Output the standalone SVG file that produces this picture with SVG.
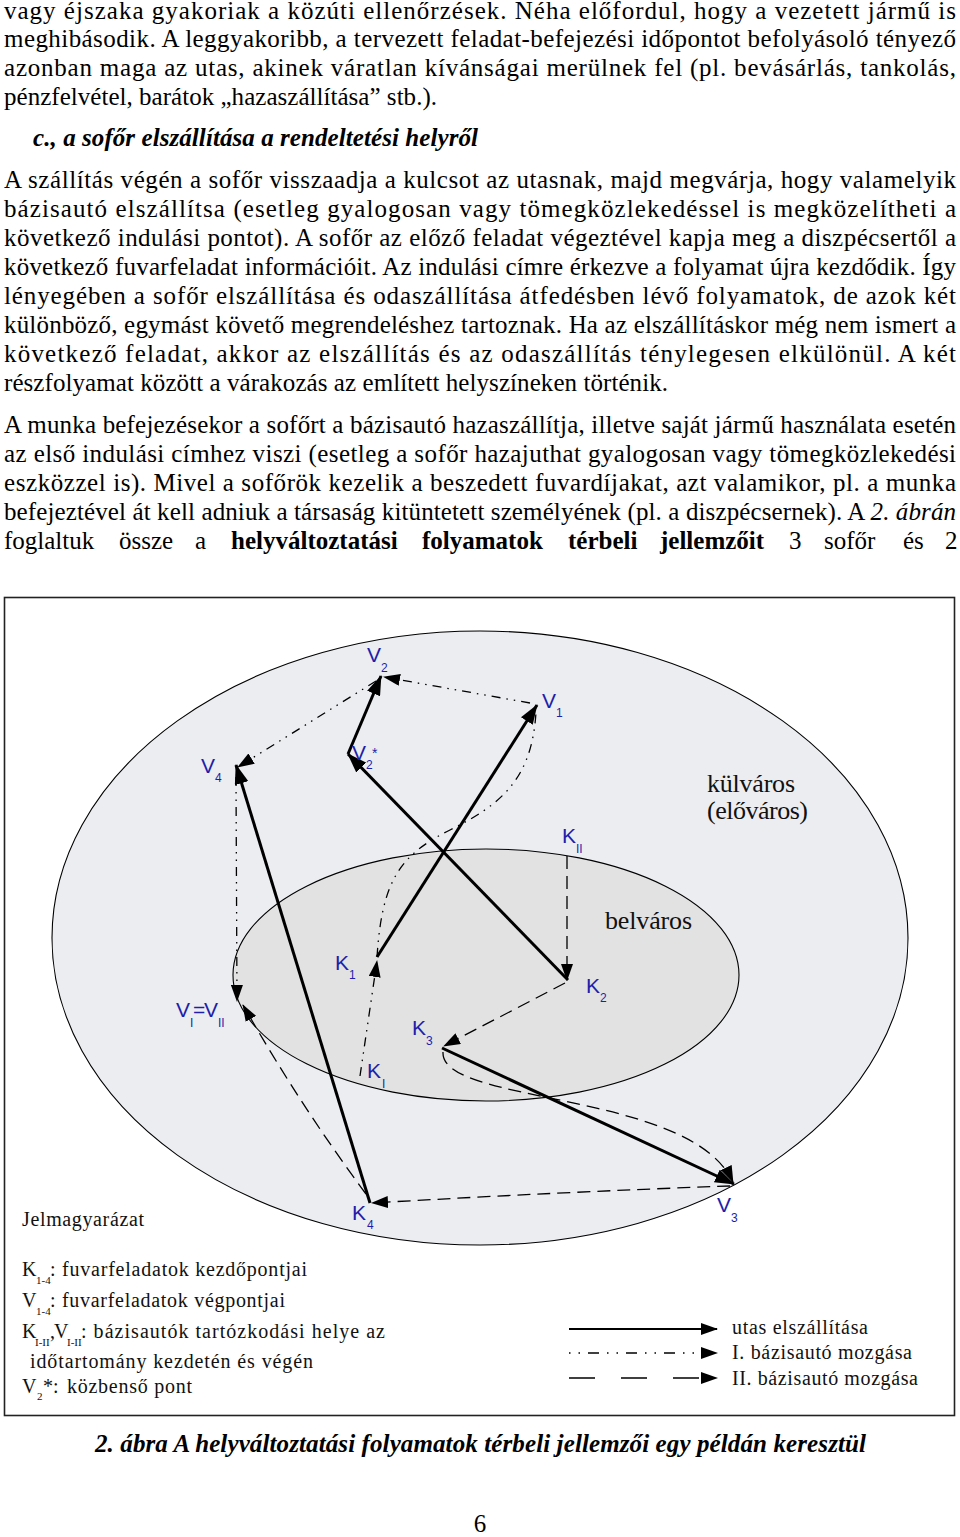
<svg xmlns="http://www.w3.org/2000/svg" width="960" height="1537" viewBox="0 0 960 1537">
<style>
.body{font-family:"Liberation Serif","Times New Roman",serif;font-size:25px;fill:#000}
.bi{font-weight:bold;font-style:italic}
.lbl{font-family:"Liberation Sans",Arial,sans-serif;font-size:21px;fill:#1e1eaa}
.sub{font-size:12px}
.zone{font-family:"Liberation Serif","Times New Roman",serif;font-size:26px;fill:#111}
.leg{font-family:"Liberation Serif","Times New Roman",serif;font-size:20px;fill:#111}
.legs{font-family:"Liberation Serif","Times New Roman",serif;font-size:11px;fill:#111}
.solid{fill:none;stroke:#000;stroke-width:3}
.dd{fill:none;stroke:#000;stroke-width:1.3;stroke-dasharray:9 6 1.5 6 1.5 6}
.da{fill:none;stroke:#000;stroke-width:1.3;stroke-dasharray:13 7}
</style>
<defs>
<marker id="ah" viewBox="0 0 20 14" refX="19" refY="7" markerWidth="20" markerHeight="14" markerUnits="userSpaceOnUse" orient="auto"><path d="M0,0 L20,7 L0,14 z" fill="#000"/></marker>
<marker id="ah2" viewBox="0 0 17 12" refX="16" refY="6" markerWidth="17" markerHeight="12" markerUnits="userSpaceOnUse" orient="auto"><path d="M0,0 L17,6 L0,12 z" fill="#000"/></marker>
</defs>
<rect width="960" height="1537" fill="#fff"/>

<g id="page-text" class="body">
<text x="4" y="19" textLength="952" lengthAdjust="spacing">vagy éjszaka gyakoriak a közúti ellenőrzések. Néha előfordul, hogy a vezetett jármű is</text>
<text x="4" y="47" textLength="952" lengthAdjust="spacing">meghibásodik. A leggyakoribb, a tervezett feladat-befejezési időpontot befolyásoló tényező</text>
<text x="4" y="76" textLength="952" lengthAdjust="spacing">azonban maga az utas, akinek váratlan kívánságai merülnek fel (pl. bevásárlás, tankolás,</text>
<text x="4" y="105" textLength="433" lengthAdjust="spacing">pénzfelvétel, barátok „hazaszállítása” stb.).</text>
<text x="33" y="146" class="bi" textLength="445" lengthAdjust="spacing">c., a sofőr elszállítása a rendeltetési helyről</text>
<text x="4" y="188" textLength="952" lengthAdjust="spacing">A szállítás végén a sofőr visszaadja a kulcsot az utasnak, majd megvárja, hogy valamelyik</text>
<text x="4" y="217" textLength="952" lengthAdjust="spacing">bázisautó elszállítsa (esetleg gyalogosan vagy tömegközlekedéssel is megközelítheti a</text>
<text x="4" y="246" textLength="952" lengthAdjust="spacing">következő indulási pontot). A sofőr az előző feladat végeztével kapja meg a diszpécsertől a</text>
<text x="4" y="275" textLength="952" lengthAdjust="spacing">következő fuvarfeladat információit. Az indulási címre érkezve a folyamat újra kezdődik. Így</text>
<text x="4" y="304" textLength="952" lengthAdjust="spacing">lényegében a sofőr elszállítása és odaszállítása átfedésben lévő folyamatok, de azok két</text>
<text x="4" y="333" textLength="952" lengthAdjust="spacing">különböző, egymást követő megrendeléshez tartoznak. Ha az elszállításkor még nem ismert a</text>
<text x="4" y="362" textLength="952" lengthAdjust="spacing">következő feladat, akkor az elszállítás és az odaszállítás ténylegesen elkülönül. A két</text>
<text x="4" y="391" textLength="664" lengthAdjust="spacing">részfolyamat között a várakozás az említett helyszíneken történik.</text>
<text x="4" y="433" textLength="952" lengthAdjust="spacing">A munka befejezésekor a sofőrt a bázisautó hazaszállítja, illetve saját jármű használata esetén</text>
<text x="4" y="462" textLength="952" lengthAdjust="spacing">az első indulási címhez viszi (esetleg a sofőr hazajuthat gyalogosan vagy tömegközlekedési</text>
<text x="4" y="491" textLength="952" lengthAdjust="spacing">eszközzel is). Mivel a sofőrök kezelik a beszedett fuvardíjakat, azt valamikor, pl. a munka</text>
<text x="4" y="520" textLength="952" lengthAdjust="spacing">befejeztével át kell adniuk a társaság kitüntetett személyének (pl. a diszpécsernek). A <tspan font-style="italic">2. ábrán</tspan></text>
<text y="549"><tspan x="4">foglaltuk</tspan><tspan x="119">össze</tspan><tspan x="195">a</tspan><tspan x="231" font-weight="bold">helyváltoztatási</tspan><tspan x="422" font-weight="bold">folyamatok</tspan><tspan x="568" font-weight="bold">térbeli</tspan><tspan x="660" font-weight="bold">jellemzőit</tspan><tspan x="789">3</tspan><tspan x="824">sofőr</tspan><tspan x="903">és</tspan><tspan x="945">2</tspan></text>
<text x="95" y="1452" class="bi" textLength="771" lengthAdjust="spacing">2. ábra A helyváltoztatási folyamatok térbeli jellemzői egy példán keresztül</text>
<text x="480" y="1532" text-anchor="middle">6</text>
</g>

<g id="frame">
<rect x="4.5" y="597.5" width="950" height="818" fill="#fff" stroke="#222" stroke-width="1.6"/>
</g>

<g id="zone-kulvaros">
<ellipse cx="480" cy="938" rx="428" ry="307" fill="#ecedf1" stroke="#000" stroke-width="1.1"/>
<text class="zone" x="707" y="792" textLength="88" lengthAdjust="spacing">külváros</text>
<text class="zone" x="707" y="819" textLength="101" lengthAdjust="spacing">(előváros)</text>
</g>
<g id="zone-belvaros">
<ellipse cx="486" cy="975" rx="253" ry="126" fill="#e2e2e3" stroke="#000" stroke-width="1.1"/>
<text class="zone" x="605" y="929" textLength="87" lengthAdjust="spacing">belváros</text>
</g>

<g id="connectors">
<!-- utas elszállítása -->
<line class="solid" x1="377" y1="957" x2="537" y2="705" marker-end="url(#ah)"/>
<line class="solid" x1="568" y1="980" x2="348" y2="754" marker-end="url(#ah)"/>
<line class="solid" x1="348" y1="754" x2="381" y2="676" marker-end="url(#ah)"/>
<line class="solid" x1="370" y1="1203" x2="236" y2="765" marker-end="url(#ah)"/>
<line class="solid" x1="442" y1="1048" x2="734" y2="1184" marker-end="url(#ah)"/>
<!-- I. bázisautó -->
<line class="dd" x1="360" y1="1076" x2="377" y2="961" marker-end="url(#ah2)"/>
<path class="dd" d="M377,957 C382,880 400,855 450,830 C500,805 532,780 536,712"/>
<line class="dd" x1="530" y1="703" x2="384" y2="677" marker-end="url(#ah2)"/>
<line class="dd" x1="376" y1="681" x2="238" y2="767" marker-end="url(#ah2)"/>
<line class="dd" x1="236" y1="777" x2="237" y2="1001" marker-end="url(#ah2)"/>
<!-- II. bázisautó -->
<line class="da" x1="567" y1="856" x2="567" y2="980" marker-end="url(#ah2)"/>
<line class="da" x1="565" y1="983" x2="444" y2="1046" marker-end="url(#ah2)"/>
<path class="da" d="M443,1052 C440,1105 690,1090 733,1182" marker-end="url(#ah2)"/>
<path class="da" d="M730,1186 Q560,1192 372,1203" marker-end="url(#ah2)"/>
<path class="da" d="M366,1194 Q300,1105 243,1005" marker-end="url(#ah2)"/>
</g>

<g id="node-V1" class="lbl"><text x="542" y="708">V</text><text class="sub" x="556" y="717">1</text></g>
<g id="node-V2" class="lbl"><text x="367" y="662">V</text><text class="sub" x="381" y="672">2</text></g>
<g id="node-V2star" class="lbl"><text x="352" y="760">V</text><text class="sub" x="366" y="769">2</text><text x="372" y="758" font-size="14">*</text></g>
<g id="node-V3" class="lbl"><text x="717" y="1212">V</text><text class="sub" x="731" y="1222">3</text></g>
<g id="node-V4" class="lbl"><text x="201" y="773">V</text><text class="sub" x="215" y="782">4</text></g>
<g id="node-K1" class="lbl"><text x="335" y="970">K</text><text class="sub" x="349" y="979">1</text></g>
<g id="node-K2" class="lbl"><text x="586" y="993">K</text><text class="sub" x="600" y="1002">2</text></g>
<g id="node-K3" class="lbl"><text x="412" y="1035">K</text><text class="sub" x="426" y="1045">3</text></g>
<g id="node-K4" class="lbl"><text x="352" y="1220">K</text><text class="sub" x="367" y="1229">4</text></g>
<g id="node-KI" class="lbl"><text x="367" y="1078">K</text><text class="sub" x="382" y="1088">I</text></g>
<g id="node-KII" class="lbl"><text x="562" y="843">K</text><text class="sub" x="576" y="853">II</text></g>
<g id="node-VI-VII" class="lbl"><text x="176" y="1017">V</text><text class="sub" x="190" y="1027">I</text><text x="193" y="1017">=</text><text x="204" y="1017">V</text><text class="sub" x="218" y="1027">II</text></g>

<g id="legend">
<text class="leg" x="22" y="1226" textLength="122" lengthAdjust="spacing">Jelmagyarázat</text>
<text class="leg" x="22" y="1276">K</text><text class="legs" x="36" y="1284">1-4</text><text class="leg" x="50" y="1276" textLength="257" lengthAdjust="spacing">: fuvarfeladatok kezdőpontjai</text>
<text class="leg" x="22" y="1307">V</text><text class="legs" x="36" y="1315">1-4</text><text class="leg" x="50" y="1307" textLength="235" lengthAdjust="spacing">: fuvarfeladatok végpontjai</text>
<text class="leg" x="22" y="1338">K</text><text class="legs" x="35" y="1346">I-II</text><text class="leg" x="50" y="1338">,</text><text class="leg" x="54" y="1338">V</text><text class="legs" x="67" y="1346">I-II</text><text class="leg" x="81" y="1338" textLength="304" lengthAdjust="spacing">: bázisautók tartózkodási helye az</text>
<text class="leg" x="30" y="1368" textLength="283" lengthAdjust="spacing">időtartomány kezdetén és végén</text>
<text class="leg" x="22" y="1393">V</text><text class="legs" x="37" y="1400">2</text><text class="leg" x="43" y="1393">*:</text><text class="leg" x="67" y="1393" textLength="125" lengthAdjust="spacing">közbenső pont</text>
<line x1="569" y1="1329" x2="717" y2="1329" stroke="#000" stroke-width="2.2" marker-end="url(#ah2)"/>
<line x1="569" y1="1353" x2="717" y2="1353" stroke="#000" stroke-width="1.5" stroke-dasharray="1.5 8 1.5 8 11 8" marker-end="url(#ah2)"/>
<line x1="569" y1="1378" x2="717" y2="1378" stroke="#000" stroke-width="1.5" stroke-dasharray="26 26" marker-end="url(#ah2)"/>
<text class="leg" x="732" y="1334" textLength="136" lengthAdjust="spacing">utas elszállítása</text>
<text class="leg" x="732" y="1359" textLength="180" lengthAdjust="spacing">I. bázisautó mozgása</text>
<text class="leg" x="732" y="1385" textLength="186" lengthAdjust="spacing">II. bázisautó mozgása</text>
</g>
</svg>
